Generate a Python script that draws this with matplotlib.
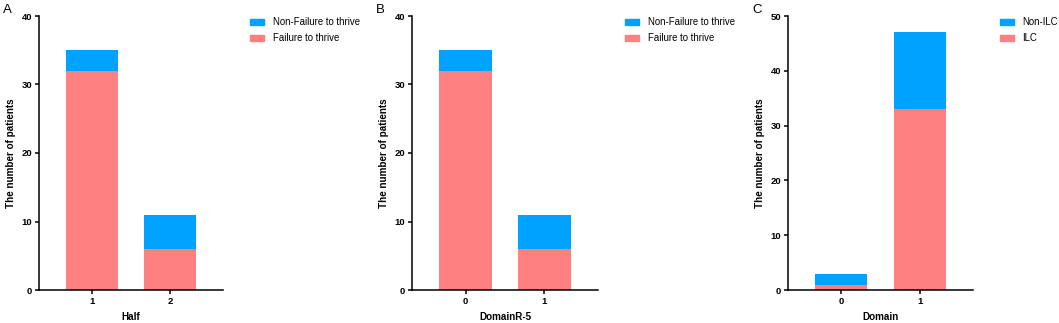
import matplotlib
matplotlib.use("Agg")
import matplotlib.pyplot as plt
from matplotlib.patches import Patch

plt.rcParams['font.family'] = ['Liberation Sans', 'DejaVu Sans']

BLUE = '#00A2FF'
PINK = '#FF8080'

# panel A
a_cats = ['1', '2']
a_fail = [32, 6]
a_nonfail = [3, 5]

# panel B
b_cats = ['0', '1']
b_fail = [32, 6]
b_nonfail = [3, 5]

# panel C
c_cats = ['0', '1']
c_ilc = [1, 33]
c_nonilc = [2, 14]

W, H = 1059, 323
fig = plt.figure(figsize=(W / 100, H / 100), dpi=100)


def px_axes(left, right, top, bottom):
    return fig.add_axes([left / W, 1 - bottom / H, (right - left) / W, (bottom - top) / H])


def panel(ax, cats, low, high, low_lab, high_lab, xlabel, ymax, letter, leg_x):
    x = list(range(len(cats)))
    ax.bar(x, low, width=0.667, color=PINK, linewidth=0)
    ax.bar(x, high, bottom=low, width=0.667, color=BLUE, linewidth=0)
    ax.set_xlim(-0.68, len(cats) - 1 + 0.68)
    ax.set_ylim(0, ymax)
    ax.set_yticks(range(0, ymax + 1, 10))
    ax.set_xticks(x)
    ax.set_xticklabels(cats)
    for s in ['top', 'right']:
        ax.spines[s].set_visible(False)
    for s in ['left', 'bottom']:
        ax.spines[s].set_linewidth(1.1)
    ax.tick_params(axis='both', length=3, width=1.1, labelsize=6.8, pad=2)
    for lab in ax.get_xticklabels() + ax.get_yticklabels():
        lab.set_fontweight('bold')
    ax.set_ylabel('The number of patients', fontsize=7.1, fontweight='bold', labelpad=4)
    ax.set_xlabel(xlabel, fontsize=7.1, fontweight='bold', labelpad=4)
    pos = ax.get_position()
    fig.text(pos.x0 - 36 / W, 1 - 4 / H, letter, fontsize=9.5, va='top', ha='left')
    handles = [Patch(color=BLUE, label=high_lab), Patch(color=PINK, label=low_lab)]
    fig.legend(handles=handles, loc='upper left', bbox_to_anchor=(leg_x / W, 1 - 17 / H),
               frameon=False, fontsize=6.9, handlelength=1.5, handleheight=0.6,
               handletextpad=0.85, labelspacing=0.65, borderpad=0, borderaxespad=0)


axA = px_axes(39, 223, 16, 290)
panel(axA, a_cats, a_fail, a_nonfail, 'Failure to thrive', 'Non-Failure to thrive',
      'Half', 40, 'A', 250)

axB = px_axes(412, 598, 16, 290)
panel(axB, b_cats, b_fail, b_nonfail, 'Failure to thrive', 'Non-Failure to thrive',
      'DomainR-5', 40, 'B', 625)

axC = px_axes(788, 973, 16, 290)
panel(axC, c_cats, c_ilc, c_nonilc, 'ILC', 'Non-ILC', 'Domain', 50, 'C', 1000)

fig.savefig('out.png', dpi=100)
